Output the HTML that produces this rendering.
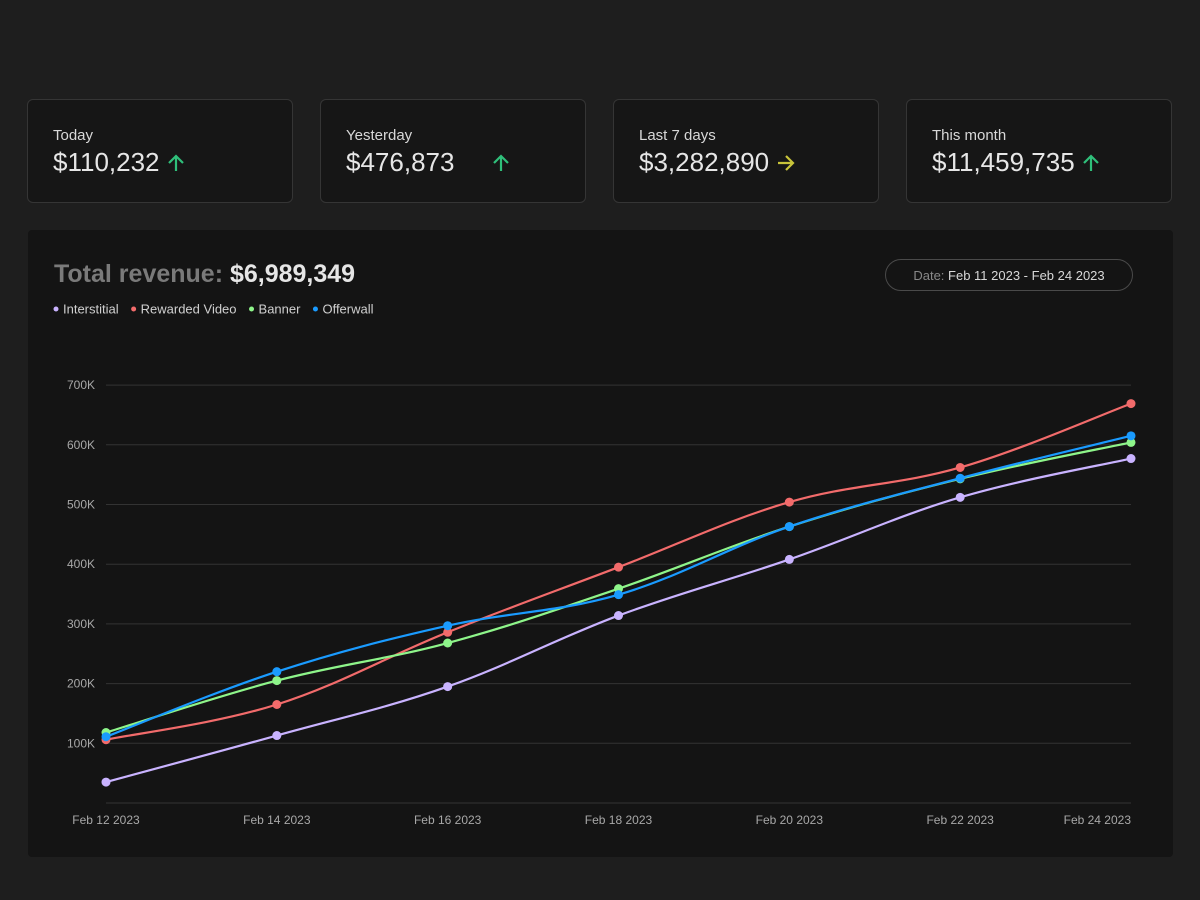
<!DOCTYPE html>
<html><head><meta charset="utf-8"><style>
body{margin:0;width:1200px;height:900px;background:#1e1e1e;font-family:"Liberation Sans",sans-serif;position:relative;overflow:hidden}
.card{position:absolute;top:99px;width:266px;height:104px;background:#161616;border:1px solid #353535;border-radius:6px;box-sizing:border-box}
.card .l{position:absolute;left:25px;top:27px;font-size:15px;color:#d8d8d8}
.card .v{position:absolute;left:25px;top:47px;font-size:26px;color:#e6e6e6;white-space:nowrap;display:flex;align-items:center}
.card .v svg{margin-left:7px}
#panel{position:absolute;left:28px;top:230px;width:1145px;height:627px;background:#141414;border-radius:4px}
</style></head><body>
<div class="card" style="left:27px"><div class="l">Today</div><div class="v">$110,232<svg width="18" height="20" viewBox="0 0 18 20"><path d="M9 18V3M2 10l7-7 7 7" fill="none" stroke="#2fbf7a" stroke-width="2.2"/></svg></div></div>
<div class="card" style="left:320px"><div class="l">Yesterday</div><div class="v">$476,873<svg style="margin-left:38px" width="18" height="20" viewBox="0 0 18 20"><path d="M9 18V3M2 10l7-7 7 7" fill="none" stroke="#2fbf7a" stroke-width="2.2"/></svg></div></div>
<div class="card" style="left:613px"><div class="l">Last 7 days</div><div class="v">$3,282,890<svg width="20" height="20" viewBox="0 0 20 20"><path d="M2 10h15M10 3l7 7-7 7" fill="none" stroke="#c8c43a" stroke-width="2.2"/></svg></div></div>
<div class="card" style="left:906px"><div class="l">This month</div><div class="v">$11,459,735<svg width="18" height="20" viewBox="0 0 18 20"><path d="M9 18V3M2 10l7-7 7 7" fill="none" stroke="#2fbf7a" stroke-width="2.2"/></svg></div></div>
<div id="panel"></div>
<svg id="chart" width="1200" height="900" style="position:absolute;left:0;top:0">
<text x="54" y="282" font-size="25" font-weight="bold" fill="#7a7a7a">Total revenue: <tspan fill="#e6e6e6">$6,989,349</tspan></text>
<rect x="885.5" y="259.5" width="247" height="31" rx="15.5" fill="none" stroke="#4a4a4a"/>
<text x="1009" y="280" font-size="13" text-anchor="middle" fill="#d8d8d8"><tspan fill="#888">Date: </tspan>Feb 11 2023 - Feb 24 2023</text>
<g id="legend"></g><g id="grid"></g><g id="lines"></g>
</svg>
<script>
const categories=["Feb 12 2023","Feb 14 2023","Feb 16 2023","Feb 18 2023","Feb 20 2023","Feb 22 2023","Feb 24 2023"];
const yTicks=[100000,200000,300000,400000,500000,600000,700000];
const yTickLabels=["100K","200K","300K","400K","500K","600K","700K"];
const seriesNames=["Interstitial","Rewarded Video","Banner","Offerwall"];
const interstitial=[35000,113000,195000,314000,408000,512000,577000];
const rewardedVideo=[106000,165000,286000,395000,504000,562000,669000];
const banner=[118000,205000,268000,359000,463000,543000,604000];
const offerwall=[111000,220000,297000,349000,463000,544000,615000];
const seriesValues=[interstitial,rewardedVideo,banner,offerwall];
const colors=["#c9b3ff","#f26b6b","#8ef58a","#1a9bff"];
const NS="http://www.w3.org/2000/svg";
const x0=106,x1=1131,yBase=803,pxPer100k=59.7;
const xs=i=>x0+(x1-x0)*i/(categories.length-1);
const ys=v=>yBase-v/100000*pxPer100k;
function mk(t,a,p){const e=document.createElementNS(NS,t);for(const k in a)e.setAttribute(k,a[k]);p.appendChild(e);return e;}
const grid=document.getElementById('grid');
[0,...yTicks].forEach((t,i)=>{
  const l=mk('line',{x1:x0,x2:x1,y1:ys(t),y2:ys(t),stroke:'#333','stroke-width':1},grid);
  
  
  if(i>0){const tx=mk('text',{x:95,y:ys(t)+4,'font-size':12,'text-anchor':'end',fill:'#a8a8a8'},grid);tx.textContent=yTickLabels[i-1];
  
  }
});
categories.forEach((c,i)=>{
  const anchor=i===categories.length-1?'end':'middle';
  const tx=mk('text',{x:xs(i),y:824,'font-size':12,'text-anchor':anchor,fill:'#a8a8a8'},grid);tx.textContent=c;
  
  
});
const lg=document.getElementById('legend');let lx=56;
seriesNames.forEach((n,i)=>{
  const g=mk('g',{},lg);
  
  
  mk('circle',{cx:lx,cy:309,r:2.5,fill:colors[i]},g);
  const t=mk('text',{x:lx+7,y:313.5,'font-size':13,fill:'#d0d0d0'},g);t.textContent=n;
  lx+=7+t.getComputedTextLength()+15;
});
const lines=document.getElementById('lines');
seriesValues.forEach((vals,s)=>{
  const P=vals.map((v,i)=>[xs(i),ys(v)]);
  let d='M'+P[0][0]+','+P[0][1];
  for(let i=0;i<P.length-1;i++){
    const p0=P[Math.max(i-1,0)],p1=P[i],p2=P[i+1],p3=P[Math.min(i+2,P.length-1)];
    const k=0.18;
    d+=' C'+(p1[0]+(p2[0]-p0[0])*k)+','+(p1[1]+(p2[1]-p0[1])*k)+' '+(p2[0]-(p3[0]-p1[0])*k)+','+(p2[1]-(p3[1]-p1[1])*k)+' '+p2[0]+','+p2[1];
  }
  const path=mk('path',{d:d,fill:'none',stroke:colors[s],'stroke-width':2.2},lines);
  
  
  P.forEach(p=>{const c=mk('circle',{cx:p[0],cy:p[1],r:4.5,fill:colors[s]},lines);
  
  });
});
</script>
</body></html>
